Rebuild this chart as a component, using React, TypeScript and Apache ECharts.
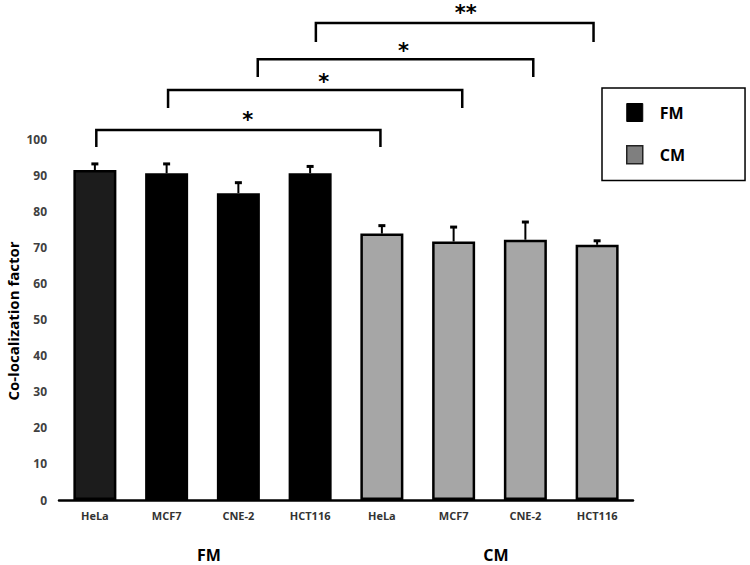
import React, { useEffect, useRef } from "react";
import * as echarts from "echarts";

const categories = ["HeLa", "MCF7", "CNE-2", "HCT116", "HeLa", "MCF7", "CNE-2", "HCT116"];
const groups = ["FM", "CM"];
const yAxisTitle = "Co-localization factor";
const fmValues = [91.4, 90.5, 85.0, 90.5];
const cmValues = [73.8, 71.6, 72.1, 70.7];
const fmErrors = [1.7, 2.6, 2.9, 1.9];
const cmErrors = [2.2, 4.0, 4.9, 1.1];

// significance brackets (category positions, value levels)
const bracketFrom = [0.02, 1.02, 2.27, 3.08];
const bracketTo = [3.98, 5.12, 6.11, 6.95];
const bracketTop = [102.5, 113.6, 122.1, 132.1];
const bracketLeg = [97.8, 108.6, 117.2, 126.9];
const starX = [2.13, 3.19, 4.3, 5.17];
const starY = [106.1, 116.6, 125.2, 135.7];
const bracketLabels = ["*", "*", "*", "**"];

const FONT = "Open Sans";

export default function App() {
  const ref = useRef<HTMLDivElement>(null);
  useEffect(() => {
    if (!ref.current) return;
    const chart = echarts.init(ref.current, undefined, { renderer: "svg" });
    const n = fmValues.length;
    const fmData = [
      ...fmValues.map((v, i) => (i === 0 ? { value: v, itemStyle: { color: "#1c1c1c" } } : v)),
      ...cmValues.map(() => "-"),
    ];
    const cmData = [...fmValues.map(() => "-"), ...cmValues];
    const errData = [
      ...fmValues.map((v, i) => [i, v, fmErrors[i]]),
      ...cmValues.map((v, i) => [i + n, v, cmErrors[i]]),
    ];
    const bracketData = bracketFrom.map((f, i) => [f, bracketTo[i], bracketTop[i], bracketLeg[i], starX[i], starY[i]]);

    chart.setOption({
      animation: false,
      textStyle: { fontFamily: FONT },
      grid: { left: 59, right: 117, top: 139, bottom: 65, containLabel: false, outerBoundsMode: "none" },
      graphic: [
        {
          type: "text",
          x: 13,
          y: 321,
          rotation: Math.PI / 2,
          style: {
            text: yAxisTitle,
            fontFamily: FONT,
            fontSize: 15,
            fontWeight: "bold",
            fill: "#000",
            align: "center",
            verticalAlign: "middle",
          },
        },
      ],
      legend: {
        orient: "vertical",
        left: 602,
        top: 88,
        data: [
          { name: "FM", itemStyle: { color: "#000", borderColor: "#000", borderWidth: 1 } },
          { name: "CM", itemStyle: { color: "#7f7f7f", borderColor: "#222", borderWidth: 1.5 } },
        ],
        icon: "rect",
        itemWidth: 16,
        itemHeight: 18,
        itemGap: 23,
        padding: [15, 60, 16, 24],
        borderColor: "#000",
        borderWidth: 1.5,
        textStyle: { fontFamily: FONT, fontSize: 16, fontWeight: "bold", color: "#000", padding: [0, 0, 0, 12] },
      },
      xAxis: [
        {
          type: "category",
          data: categories,
          axisLine: { show: true, lineStyle: { color: "#000", width: 2.5 } },
          axisTick: { show: false },
          axisLabel: { fontFamily: FONT, fontSize: 11, fontWeight: "bold", color: "#333", margin: 10 },
        },
        {
          type: "value",
          min: -0.5,
          max: 7.5,
          show: false,
        },
        {
          type: "category",
          data: groups,
          position: "bottom",
          axisLine: { show: false },
          axisTick: { show: false },
          axisLabel: {
            fontFamily: FONT,
            fontSize: 16,
            fontWeight: "bold",
            color: "#000",
            margin: 47,
            lineHeight: 16,
            padding: [0, 0, 0, 13],
          },
        },
      ],
      yAxis: {
        type: "value",
        min: 0,
        max: 100,
        interval: 10,
        axisLine: { show: false },
        axisTick: { show: false },
        splitLine: { show: false },
        axisLabel: { fontFamily: FONT, fontSize: 12, fontWeight: "bold", color: "#404040", margin: 12 },
      },
      series: [
        {
          name: "FM",
          type: "bar",
          data: fmData,
          barWidth: 43,
          barGap: "-100%",
          itemStyle: { color: "#000", borderColor: "#000", borderWidth: 2.5 },
        },
        {
          name: "CM",
          type: "bar",
          data: cmData,
          barWidth: 43,
          barGap: "-100%",
          itemStyle: { color: "#a6a6a6", borderColor: "#000", borderWidth: 2.5 },
        },
        {
          type: "custom",
          data: errData,
          clip: false,
          z: 5,
          renderItem: (params: any, api: any) => {
            const x = api.value(0);
            const v = api.value(1);
            const e = api.value(2);
            const p0 = api.coord([x, v]);
            const p1 = api.coord([x, v + e]);
            return {
              type: "group",
              children: [
                { type: "line", shape: { x1: p0[0], y1: p0[1], x2: p1[0], y2: p1[1] }, style: { stroke: "#000", lineWidth: 2 } },
                { type: "line", shape: { x1: p1[0] - 3.5, y1: p1[1], x2: p1[0] + 3.5, y2: p1[1] }, style: { stroke: "#000", lineWidth: 3 } },
              ],
            };
          },
        },
        {
          type: "custom",
          xAxisIndex: 1,
          data: bracketData,
          clip: false,
          z: 5,
          renderItem: (params: any, api: any) => {
            const f = api.value(0);
            const t = api.value(1);
            const top = api.value(2);
            const leg = api.value(3);
            const sx = api.value(4);
            const sy = api.value(5);
            const a = api.coord([f, leg]);
            const b = api.coord([f, top]);
            const c = api.coord([t, top]);
            const d = api.coord([t, leg]);
            const s = api.coord([sx, sy]);
            return {
              type: "group",
              children: [
                {
                  type: "polyline",
                  shape: { points: [a, b, c, d] },
                  style: { stroke: "#000", lineWidth: 2.5, fill: null },
                },
                {
                  type: "text",
                  x: s[0],
                  y: s[1] + 2.7,
                  style: {
                    text: bracketLabels[params.dataIndex],
                    fontFamily: "DejaVu Sans",
                    fontSize: 21,
                    lineHeight: 14,
                    fontWeight: "bold",
                    fill: "#000",
                    align: "center",
                    verticalAlign: "middle",
                  },
                },
              ],
            };
          },
        },
      ],
    });
    return () => chart.dispose();
  }, []);
  return <div ref={ref} style={{ position: "fixed", left: 0, top: 0, width: 750, height: 565, background: "#fff" }} />;
}
